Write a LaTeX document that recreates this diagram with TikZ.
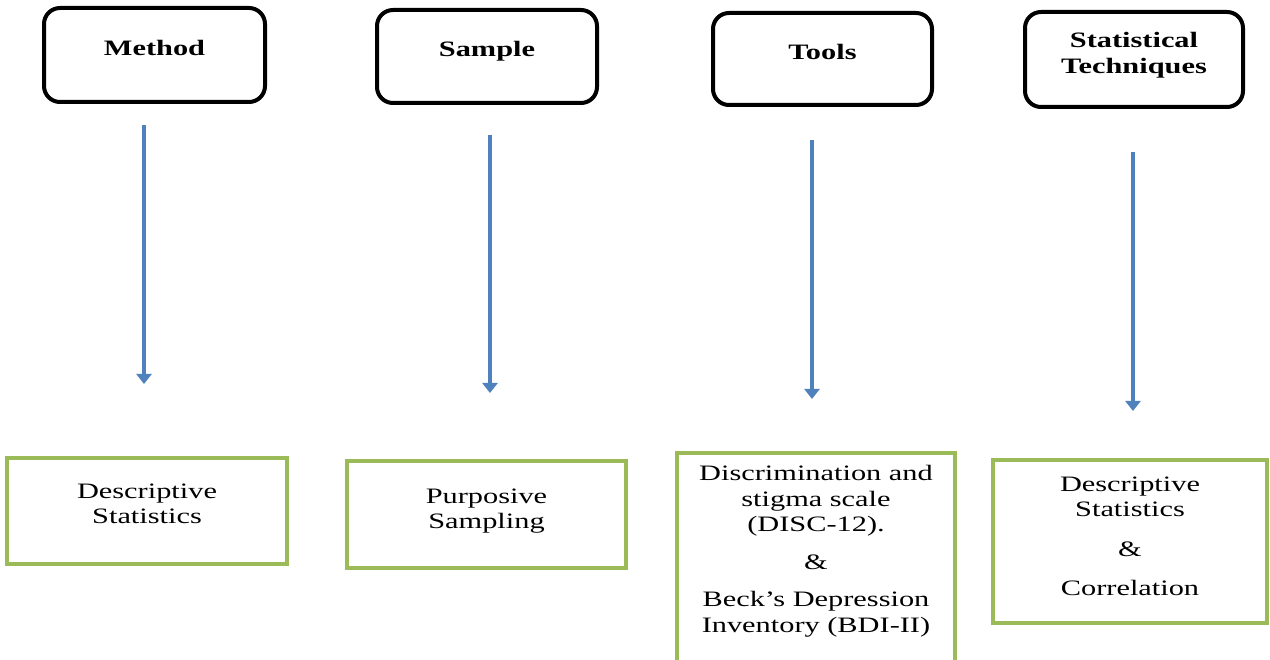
\documentclass[tikz,border=0pt]{standalone}
\usepackage{fontspec}
\setmainfont{Liberation Serif}[FakeStretch=1.38]
\usetikzlibrary{arrows.meta}
\definecolor{arrblue}{RGB}{79,129,189}
\definecolor{boxgreen}{RGB}{155,187,89}
\begin{document}
\begin{tikzpicture}[x=1pt,y=-1pt,
  topbox/.style={draw=black,line width=4pt,rounded corners=16pt,align=center,
    font=\fontsize{22}{25.5}\selectfont\bfseries,inner sep=0pt},
  botbox/.style={draw=boxgreen,line width=4pt,align=center,
    font=\fontsize{22}{25.5}\selectfont,inner sep=0pt},
  arr/.style={draw=arrblue,line width=4.2pt,-{Triangle[width=15pt,length=10pt]}}]
\fill[white] (0,0) rectangle (1270,660);
\useasboundingbox (0,0) rectangle (1270,660);
\clip (0,0) rectangle (1270,660);
% top boxes
\node[topbox,minimum width=221pt,minimum height=94pt,text depth=14pt] (method) at (154.5,55) {Method};
\node[topbox,minimum width=220pt,minimum height=93pt,text depth=16pt] (sample) at (487,56.5) {Sample};
\node[topbox,minimum width=219pt,minimum height=92pt,text depth=14pt] (tools) at (822.5,59) {Tools};
\node[topbox,minimum width=218pt,minimum height=95pt,text depth=13pt] (stat) at (1134,59.5) {Statistical\\Techniques};
% bottom boxes
\node[botbox,minimum width=280pt,minimum height=106pt,text depth=15pt] (b1) at (147,511) {Descriptive\\Statistics};
\node[botbox,minimum width=279pt,minimum height=107pt,text depth=12pt] (b2) at (486.5,514.5) {Purposive\\Sampling};
\node[botbox,minimum width=278pt,minimum height=219pt,text depth=27pt] (b3) at (816,562.5) {Discrimination and\\stigma scale\\(DISC-12).\\[12pt]\&\\[12pt]Beck's Depression\\Inventory (BDI-II)};
\node[botbox,minimum width=274pt,minimum height=163pt,text depth=11pt] (b4) at (1130,541.5) {Descriptive\\Statistics\\[14pt]\&\\[14pt]Correlation};
% arrows
\coordinate (a1s) at (144,125); \coordinate (a1e) at (144,384);
\coordinate (a2s) at (490,135); \coordinate (a2e) at (490,393);
\coordinate (a3s) at (812,140); \coordinate (a3e) at (812,399);
\coordinate (a4s) at (1133,152); \coordinate (a4e) at (1133,411);
\draw[arr] (a1s) -- (a1e);
\draw[arr] (a2s) -- (a2e);
\draw[arr] (a3s) -- (a3e);
\draw[arr] (a4s) -- (a4e);
\end{tikzpicture}
\end{document}
